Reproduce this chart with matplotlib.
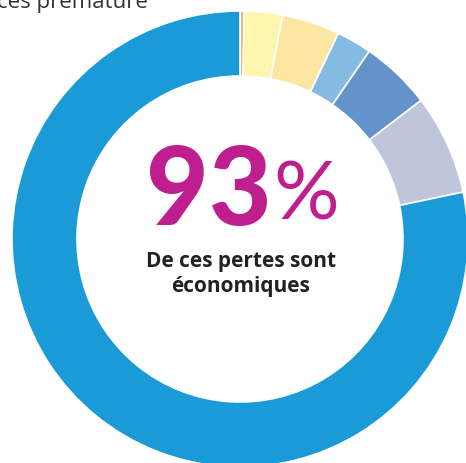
import matplotlib.pyplot as plt

categories = ["A", "B", "C", "D", "E", "F", "Économiques"]
values = [0.3, 2.7, 4.1, 2.5, 5.0, 7.1, 78.3]
colors = ["#F5B860", "#FFF5AE", "#FBE6A2", "#85BAE2", "#6492CA", "#BFC5DA", "#1A9AD6"]

big_number = "93"
subtitle = "De ces pertes sont\néconomiques"

fig = plt.figure(figsize=(4.66, 4.64), dpi=100)
ax = fig.add_axes([0, 0, 1, 1])

ax.pie(values, colors=colors, startangle=90, counterclock=False,
       center=(240, 224), radius=228, frame=True,
       wedgeprops=dict(width=65, edgecolor="white", linewidth=1.2))
ax.set_xlim(0, 466)
ax.set_ylim(0, 464)
ax.axis("off")

ax.text(272, 271, big_number, ha="right", va="center", color="#BF1E8E",
        fontsize=78, fontweight="black", family="Lato")
ax.text(273, 268, "%", ha="left", va="center", color="#BF1E8E",
        fontsize=59, fontweight="normal", family="Lato")
ax.text(241, 190, subtitle, ha="center", va="center", color="#222222",
        fontsize=15, fontweight="bold", family="Open Sans", linespacing=1.3)

ax.text(-3, 456, "ces prématuré", ha="left", va="baseline", color="#333333",
        fontsize=16, family="Open Sans")

fig.savefig("out.png", dpi=100)
